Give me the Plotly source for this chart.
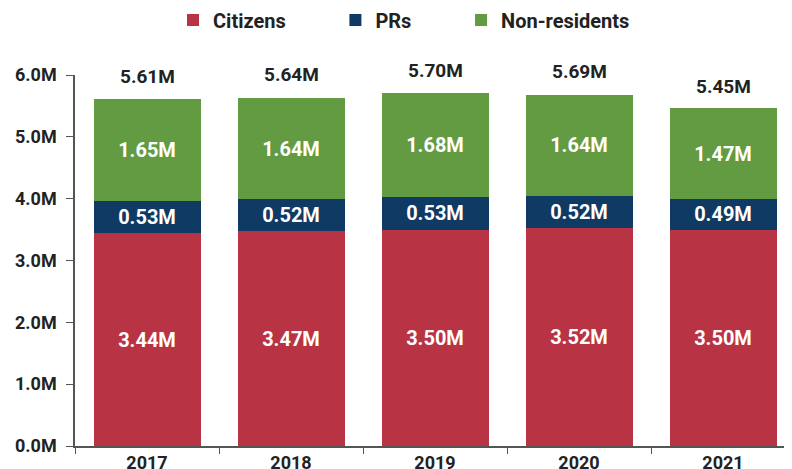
import plotly.graph_objects as go

years = ["2017", "2018", "2019", "2020", "2021"]
citizens = [3.44, 3.47, 3.50, 3.52, 3.50]
prs = [0.53, 0.52, 0.53, 0.52, 0.49]
non_residents = [1.65, 1.64, 1.68, 1.64, 1.47]
totals = [5.61, 5.64, 5.70, 5.69, 5.45]
y_ticks = [0, 1, 2, 3, 4, 5, 6]

series_names = ["Citizens", "PRs", "Non-residents"]
colors = ["#B83444", "#0E3A63", "#629B41"]
legend_pad = [9, 9, 0]  # non-breaking spaces after each legend label (spacing only)
font_family = "Roboto"
dark = "#222222"
axis_col = "#555555"

fig = go.Figure()
for name, vals, col, pad in zip(series_names, [citizens, prs, non_residents], colors, legend_pad):
    fig.add_trace(go.Bar(
        x=years, y=vals, name="<b>" + name + "</b>" + "&nbsp;" * pad,
        marker=dict(color=col, line=dict(width=0)),
        text=[f"{v:.2f}M" for v in vals],
        textposition="inside", insidetextanchor="middle",
        textfont=dict(family=font_family, size=20, color="white"),
        texttemplate="<b>%{text}</b>",
        hoverinfo="x+y",
    ))

# total labels above each stack (x given as category index)
for i, t in enumerate(totals):
    fig.add_annotation(x=i, y=t, text=f"<b>{t:.2f}M</b>", showarrow=False,
                       xref="x", yref="y", yanchor="middle", yshift=23,
                       font=dict(family=font_family, size=19, color=dark))

fig.update_layout(
    barmode="stack", bargap=0.257,
    width=792, height=469,
    margin=dict(l=67, r=5, t=67, b=31, autoexpand=False),
    plot_bgcolor="white", paper_bgcolor="white",
    font=dict(family=font_family, color=dark),
    legend=dict(orientation="h", x=0.5, xref="container", xanchor="center",
                y=1 - 12 / 469, yref="container", yanchor="middle",
                font=dict(family=font_family, size=20, color=dark),
                traceorder="normal"),
    xaxis=dict(type="category", range=[-0.5, 4.5], automargin=False,
               showline=True, linecolor=axis_col, linewidth=1.5, ticks="outside",
               tickson="boundaries", ticklen=6, tickcolor=axis_col,
               tickvals=years, ticktext=[f"<b>{y}</b>" for y in years],
               tickfont=dict(family=font_family, size=18, color=dark)),
    yaxis=dict(range=[0, 6], tickvals=y_ticks, ticktext=[f"<b>{v:.1f}M</b>" for v in y_ticks],
               automargin=False, ticklabelstandoff=6,
               showline=True, linecolor=axis_col, linewidth=1.5, ticks="outside",
               ticklen=7, tickcolor=axis_col, showgrid=False, zeroline=False,
               tickfont=dict(family=font_family, size=18, color=dark)),
)

fig.write_html("out.html")
